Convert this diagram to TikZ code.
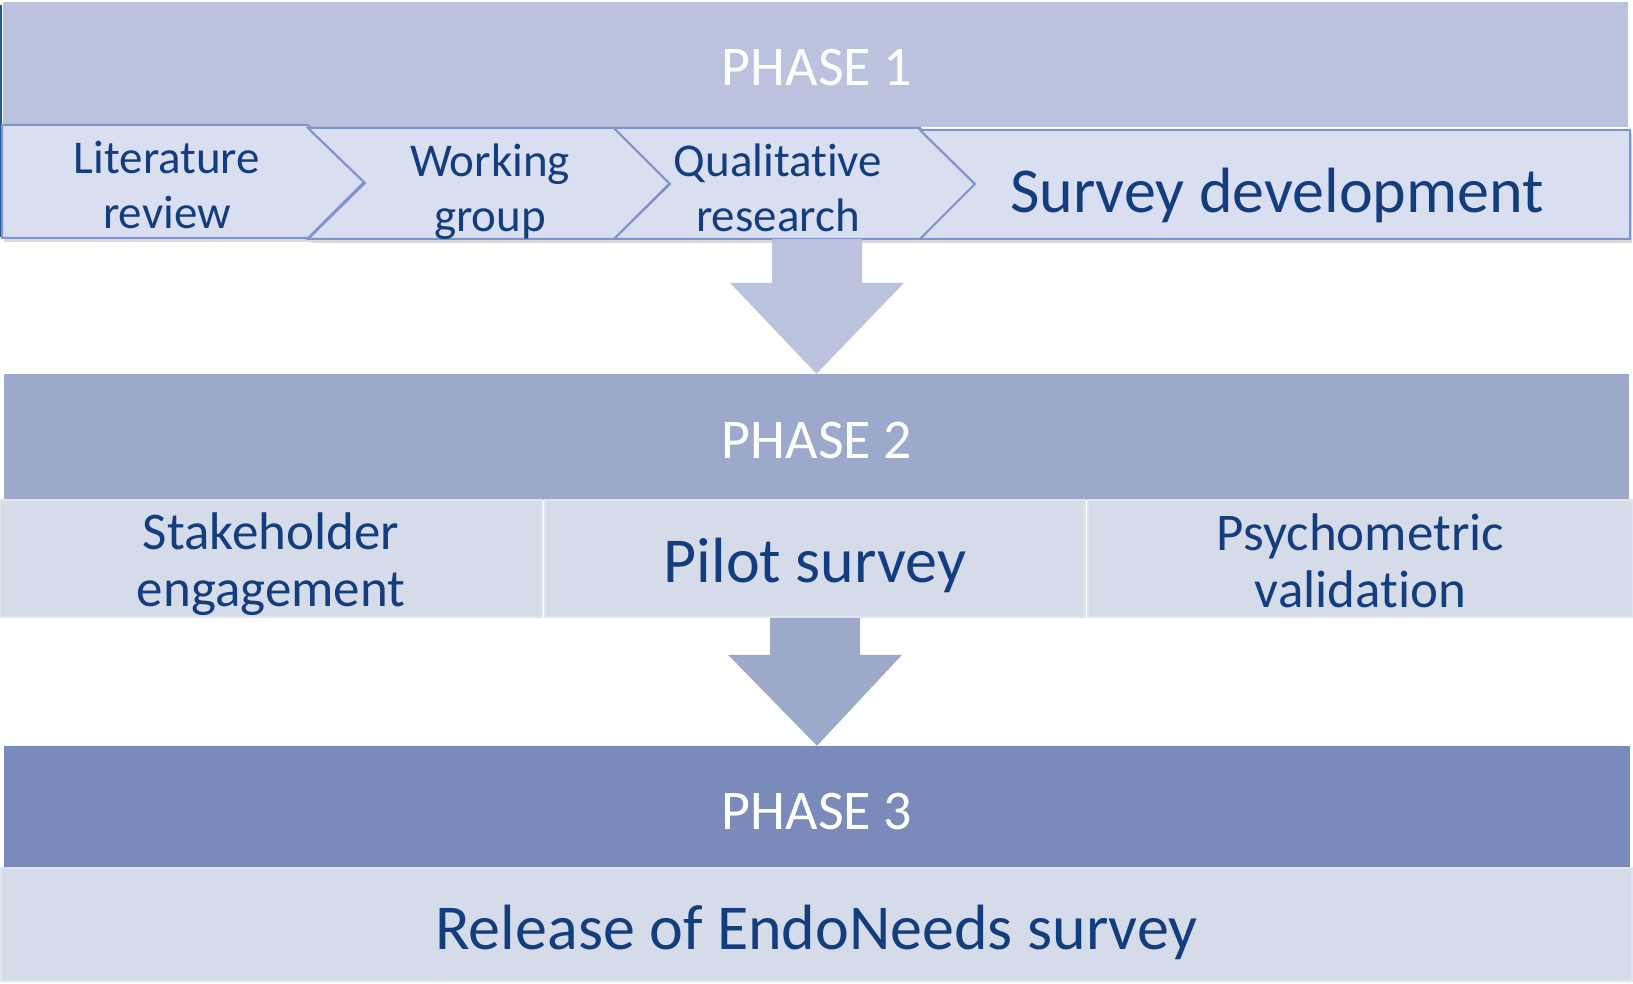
\documentclass[tikz,border=0pt]{standalone}
\usepackage{fontspec}
\setmainfont{Carlito}[Ligatures=NoCommon]
\usepackage{tikz}
\usetikzlibrary{calc}
\usetikzlibrary{shadows}

\definecolor{phaseone}{HTML}{BAC2DE}
\definecolor{phasetwo}{HTML}{9CA9CB}
\definecolor{phasethree}{HTML}{7A8BBB}
\definecolor{chevfill}{HTML}{D9DEF0}
\definecolor{chevline}{HTML}{7F93CC}
\definecolor{cellfill}{HTML}{D5DBE9}
\definecolor{cellline}{HTML}{E0E4EF}
\definecolor{navy}{HTML}{123D7F}
\definecolor{sideline}{HTML}{1F5A96}

\tikzset{
  band/.style={fill=#1, draw=none, inner sep=0pt},
  chev/.style={fill=chevfill, draw=chevline, line width=2pt, line join=miter,
    drop shadow={opacity=0.3, shadow xshift=2pt, shadow yshift=-4pt}},
  cell/.style={fill=cellfill, draw=cellline, line width=2pt, inner sep=0pt},
  phasetext/.style={text=white, font=\fontsize{56}{60}\selectfont},
  steptext/.style={text=navy, align=center, font=\fontsize{47}{55}\selectfont},
  bigtext/.style={text=navy, font=\fontsize{64}{70}\selectfont},
  celltext/.style={text=navy, align=center, font=\fontsize{53}{57}\selectfont}
}

% block arrow from a point down to a node anchor
\newcommand{\blockarrow}[3]{%
  \fill[#3] let \p1=(#1), \p2=(#2) in
    (\x1-45pt,\y1) -- (\x1+45pt,\y1) -- (\x1+45pt,\y2+91pt) -- (\x1+87pt,\y2+91pt)
    -- (\x2,\y2) -- (\x1-87pt,\y2+91pt) -- (\x1-45pt,\y2+91pt) -- cycle;}

\begin{document}
\begin{tikzpicture}[x=1pt,y=-1pt]
  \useasboundingbox (0,0) rectangle (1633,984);

  % phase 1
  \node[band=phaseone, minimum width=1625pt, minimum height=125pt] (p1) at (815.5,64.5) {};
  \node[phasetext] (p1txt) at (817,68) {PHASE 1};
  \draw[sideline, line width=2pt] (1,5) -- (1,237);

  % steps of phase 1
  \draw[chev] (2,125) -- (308,125) -- (365,181) -- (308,238) -- (2,238) -- cycle;
  \draw[chev] (308,128) -- (614,128) -- (670,183) -- (614,239) -- (308,239) -- (365,183) -- cycle;
  \draw[chev] (614,128) -- (920,128) -- (975,184) -- (920,239) -- (614,239) -- (670,184) -- cycle;
  \draw[chev] (920,130) -- (1630,130) -- (1630,239) -- (920,239) -- (975,184) -- cycle;
  \node[steptext] (lit) at (167,185) {Literature\\review};
  \node[steptext] (work) at (490,192) {Working\\group};
  \node[steptext] (qual) at (778,188) {Qualitative\\research};
  \node[bigtext] (dev) at (1277,195) {Survey development};

  % arrow to phase 2
  \coordinate (a1) at (817,239);
  \node[band=phasetwo, minimum width=1625pt, minimum height=126pt] (p2) at (816.5,437) {};
  \node[phasetext] (p2txt) at (817,441) {PHASE 2};
  \blockarrow{a1}{p2.north}{phaseone}

  % phase 2 cells
  \node[cell, minimum width=542pt, minimum height=117pt] (c1) at (271,558.5) {};
  \node[cell, minimum width=540pt, minimum height=117pt] (c2) at (815,558.5) {};
  \node[cell, minimum width=545pt, minimum height=117pt] (c3) at (1360.5,558.5) {};
  \node[celltext, yshift=-6pt] (stake) at (c1) {Stakeholder\\engagement};
  \node[bigtext, yshift=-7pt] (pilot) at (c2) {Pilot survey};
  \node[celltext, yshift=-2pt] (psych) at (c3) {Psychometric\\validation};

  % phase 3
  \node[band=phasethree, minimum width=1626pt, minimum height=122pt] (p3) at (817,807) {};
  \node[phasetext] (p3txt) at (817,812) {PHASE 3};
  \blockarrow{c2.south}{p3.north}{phasetwo}
  \node[cell, minimum width=1631pt, minimum height=113pt] (rel) at (816.5,924.5) {};
  \node[bigtext, yshift=-8pt] (reltxt) at (rel) {Release of EndoNeeds survey};
\end{tikzpicture}
\end{document}
